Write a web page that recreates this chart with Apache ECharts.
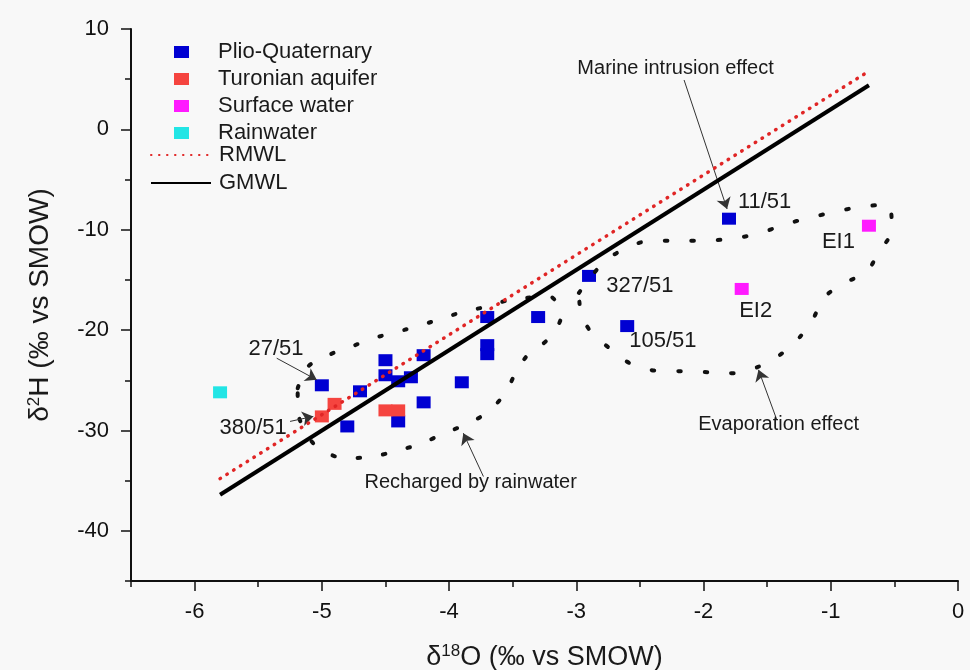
<!DOCTYPE html>
<html><head><meta charset="utf-8">
<script src="https://cdn.jsdelivr.net/npm/echarts@6/dist/echarts.min.js"></script>
<style>html,body{margin:0;padding:0;background:#f8f8f8}#c{width:970px;height:670px}</style>
</head><body><div id="c"></div>
<script>
// ---- tick labels ----
const xTicks = [-6, -5, -4, -3, -2, -1, 0];
const yTicks = [-40, -30, -20, -10, 0, 10];

// ---- samples [δ18O, δ2H] ----
const plioQuaternary = [
  [-5.0, -25.5], [-4.7, -26.1], [-4.8, -29.6], [-4.5, -23.0], [-4.5, -24.5],
  [-4.4, -25.1], [-4.3, -24.7], [-4.2, -22.5], [-4.2, -27.2], [-4.4, -29.1],
  [-3.9, -25.2], [-3.7, -18.7], [-3.7, -21.5], [-3.7, -22.4], [-3.3, -18.7],
  [-2.9, -14.6], [-2.6, -19.6], [-1.8, -8.9]
];
const turonianAquifer = [[-5.0, -28.6], [-4.9, -27.35], [-4.5, -28.0], [-4.4, -28.0]];
const surfaceWater = [[-0.7, -9.6], [-1.7, -15.9]];
const rainwater = [[-5.8, -26.2]];

// ---- meteoric water lines ----
const rmwl = [[-5.8, -34.8], [-0.7, 5.8]];
const gmwl = [[-5.8, -36.4], [-0.7, 4.4]];

// ---- hand-drawn envelopes ----
const rechargedEnvelope = [
  [-5.19, -25.8], [-5.11, -23.65], [-4.94, -22.45], [-4.75, -21.55], [-4.55, -20.65],
  [-4.33, -19.9], [-4.13, -19.15], [-3.92, -18.3], [-3.72, -17.7], [-3.52, -17.0],
  [-3.21, -16.65], [-3.12, -18.65], [-3.23, -21.0], [-3.37, -22.3], [-3.47, -24.1],
  [-3.56, -26.3], [-3.69, -28.1], [-3.84, -29.25], [-4.03, -30.25], [-4.23, -31.35],
  [-4.43, -32.1], [-4.62, -32.65], [-4.83, -32.75], [-5.04, -31.6], [-5.13, -30.1],
  [-5.19, -28.0], [-5.19, -25.8]
];
const evaporationEnvelope = [
  [-2.98, -16.3], [-2.79, -13.3], [-2.62, -11.9], [-2.42, -11.1], [-2.21, -11.1],
  [-2.0, -11.1], [-1.79, -10.9], [-1.57, -10.4], [-1.37, -9.5], [-1.18, -8.85],
  [-0.98, -8.25], [-0.76, -7.7], [-0.55, -7.5], [-0.52, -10.0], [-0.62, -12.2],
  [-0.72, -14.2], [-0.89, -15.3], [-1.05, -16.7], [-1.13, -18.65], [-1.24, -20.65],
  [-1.38, -22.3], [-1.56, -23.6], [-1.74, -24.3], [-1.95, -24.2], [-2.16, -24.1],
  [-2.37, -24.05], [-2.58, -23.3], [-2.74, -21.8], [-2.88, -20.25], [-2.96, -18.5],
  [-2.98, -16.3]
];

// ---- annotations ----
const idLabelNames = ['11/51', '327/51', '105/51', 'EI1', 'EI2', '27/51', '380/51'];
const idLabelAt = [[-1.52, -7.2], [-2.50, -15.6], [-2.32, -21.05], [-0.94, -11.18], [-1.59, -18.09], [-5.36, -21.9], [-5.54, -29.77]];
const noteNames = ['Marine intrusion effect', 'Evaporation effect', 'Recharged by rainwater'];
const noteAt = [[-2.22, 6.09], [-1.41, -29.44], [-3.83, -35.22]];
const arrowFrom = [[-2.153, 4.92], [-1.424, -28.94], [-3.73, -34.59], [-5.355, -22.8], [-5.25, -29.1]];
const arrowTo = [[-1.815, -7.93], [-1.568, -23.96], [-3.888, -30.27], [-5.04, -24.96], [-5.067, -28.6]];

const FONT = 'Liberation Sans, Arial, sans-serif';
const chart = echarts.init(document.getElementById('c'));

const scatterStyle = (name, data, color) => ({
  name, type: 'scatter', data, symbol: 'rect', symbolSize: [14, 12], z: 3,
  itemStyle: { color, opacity: 1 }, emphasis: { disabled: true }
});

const baseXAxis = {
  type: 'value', min: -6.5, max: 0, position: 'bottom',
  splitLine: { show: false }
};
const baseYAxis = {
  type: 'value', min: -45, max: 10, position: 'left',
  splitLine: { show: false }
};

const textLabel = (size) => ({
  show: true, position: 'inside', formatter: '{b}', fontSize: size,
  color: '#1a1a1a', opacity: 1, fontFamily: FONT, textBorderWidth: 0
});

chart.setOption({
  animation: false,
  backgroundColor: '#f8f8f8',
  textStyle: { fontFamily: FONT },
  grid: { left: 131, right: 12, top: 29, bottom: 89, containLabel: false, outerBoundsMode: 'none' },
  legend: [
    {
      data: ['Plio-Quaternary', 'Turonian aquifer', 'Surface water', 'Rainwater'],
      orient: 'vertical', left: 174, top: 41, padding: 0, itemGap: 5,
      itemWidth: 15, itemHeight: 12, icon: 'rect', selectedMode: false,
      textStyle: { fontFamily: FONT, fontSize: 22, color: '#1a1a1a', lineHeight: 21, padding: [0, 0, 0, 24] }
    },
    {
      data: ['RMWL', 'GMWL'],
      orient: 'vertical', left: 150, top: 144, padding: 0, itemGap: 6,
      itemWidth: 60, itemHeight: 12, selectedMode: false,
      itemStyle: { opacity: 0 },
      textStyle: { fontFamily: FONT, fontSize: 22, color: '#1a1a1a', lineHeight: 21, padding: [0, 0, 0, 3] }
    }
  ],
  xAxis: [
    Object.assign({}, baseXAxis, {
      interval: 0.5,
      name: '{a|δ}{s|18}{a|O (‰ vs SMOW)}', nameLocation: 'middle', nameGap: 62,
      nameTextStyle: { fontFamily: FONT, color: '#1a1a1a', rich: {
        a: { fontSize: 27, fontFamily: FONT, color: '#1a1a1a' },
        s: { fontSize: 17, fontFamily: FONT, color: '#1a1a1a', padding: [0, 0, 12, 0] } } },
      axisLine: { show: true, onZero: false, lineStyle: { color: '#111', width: 2 } },
      axisTick: { show: true, length: 6, lineStyle: { color: '#111', width: 1.5 } },
      axisLabel: { customValues: xTicks, margin: 20, fontSize: 22, color: '#111', fontFamily: FONT }
    }),
    Object.assign({}, baseXAxis, {
      axisLine: { show: false, onZero: false },
      axisTick: { show: true, length: 10, customValues: xTicks, lineStyle: { color: '#111', width: 1.5 } },
      axisLabel: { show: false }
    })
  ],
  yAxis: [
    Object.assign({}, baseYAxis, {
      interval: 5,
      name: '{a|δ}{s|2}{a|H (‰ vs SMOW)}', nameLocation: 'middle', nameGap: 76,
      nameTextStyle: { fontFamily: FONT, color: '#1a1a1a', rich: {
        a: { fontSize: 28, fontFamily: FONT, color: '#1a1a1a' },
        s: { fontSize: 17, fontFamily: FONT, color: '#1a1a1a', padding: [0, 0, 12, 0] } } },
      axisLine: { show: true, onZero: false, lineStyle: { color: '#111', width: 2 } },
      axisTick: { show: true, length: 6, lineStyle: { color: '#111', width: 1.5 } },
      axisLabel: { customValues: yTicks, margin: 22, fontSize: 22, color: '#111', fontFamily: FONT }
    }),
    Object.assign({}, baseYAxis, {
      axisLine: { show: false, onZero: false },
      axisTick: { show: true, length: 10, customValues: yTicks, lineStyle: { color: '#111', width: 1.5 } },
      axisLabel: { show: false }
    })
  ],
  series: [
    scatterStyle('Plio-Quaternary', plioQuaternary, '#0000d2'),
    scatterStyle('Turonian aquifer', turonianAquifer, '#f5443f'),
    scatterStyle('Surface water', surfaceWater, '#ff1aff'),
    scatterStyle('Rainwater', rainwater, '#22e5e5'),
    {
      name: 'RMWL', type: 'line', data: rmwl, symbol: 'none', showSymbol: false, z: 5,
      lineStyle: { color: '#e02525', width: 3.5, type: [0.5, 7.5], cap: 'round' },
      itemStyle: { color: '#e02525' }, emphasis: { disabled: true }
    },
    {
      name: 'GMWL', type: 'line', data: gmwl, symbol: 'none', showSymbol: false, z: 5,
      lineStyle: { color: '#000', width: 4, type: 'solid' },
      itemStyle: { color: '#000' }, emphasis: { disabled: true }
    },
    {
      name: 'recharged', type: 'line', data: rechargedEnvelope, symbol: 'none', smooth: 0.3, z: 4,
      lineStyle: { color: '#111', width: 4, type: [2.5, 23], cap: 'round' }, emphasis: { disabled: true }, silent: true
    },
    {
      name: 'evaporation', type: 'line', data: evaporationEnvelope, symbol: 'none', smooth: 0.3, z: 4,
      lineStyle: { color: '#111', width: 4, type: [2.5, 24], cap: 'round' }, emphasis: { disabled: true }, silent: true
    },
    {
      name: 'arrows', type: 'line', data: [], symbol: 'none', silent: true, z: 6,
      markLine: {
        silent: true, symbol: ['none', 'arrow'], symbolSize: 11, animation: false,
        label: { show: false },
        lineStyle: { color: '#333', width: 1, type: 'solid' },
        emphasis: { disabled: true },
        data: arrowFrom.map((p, i) => [{ coord: p }, { coord: arrowTo[i] }])
      }
    },
    {
      name: 'ids', type: 'scatter', silent: true, symbolSize: 1, z: 7,
      itemStyle: { color: 'rgba(0,0,0,0)', opacity: 1 },
      data: idLabelNames.map((n, i) => ({ name: n, value: idLabelAt[i] })),
      label: textLabel(22)
    },
    {
      name: 'notes', type: 'scatter', silent: true, symbolSize: 1, z: 7,
      itemStyle: { color: 'rgba(0,0,0,0)', opacity: 1 },
      data: noteNames.map((n, i) => ({ name: n, value: noteAt[i] })),
      label: textLabel(20)
    }
  ]
});
</script></body></html>
